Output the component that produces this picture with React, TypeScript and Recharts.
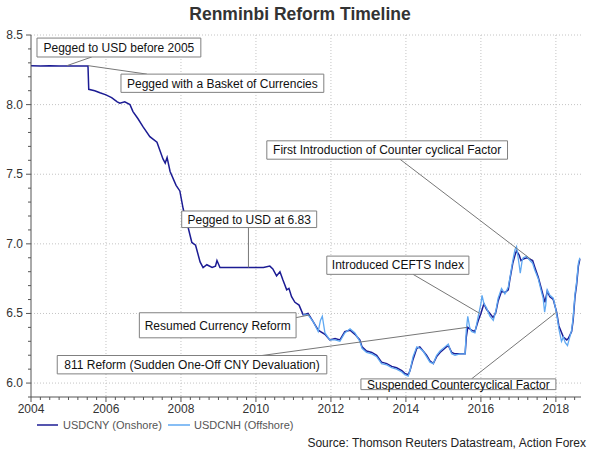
import { LineChart, Line, XAxis, YAxis, CartesianGrid, ReferenceArea, ReferenceLine } from 'recharts';

// USDCNY onshore (decimal year, rate)
const CNY_DATES = [
  2004.0, 2004.25, 2004.5, 2004.75, 2005.0, 2005.25, 2005.52, 2005.54, 2005.7, 2005.84,
  2006.0, 2006.15, 2006.3, 2006.37, 2006.5, 2006.64, 2006.72, 2006.85, 2006.99, 2007.17,
  2007.36, 2007.52, 2007.58, 2007.63, 2007.71, 2007.87, 2007.97, 2008.06, 2008.18, 2008.29,
  2008.39, 2008.51, 2008.59, 2008.69, 2008.83, 2008.92, 2008.96, 2009.04, 2009.36, 2009.79,
  2010.2, 2010.37, 2010.45, 2010.55, 2010.64, 2010.72, 2010.82, 2010.88, 2010.95, 2011.04,
  2011.15, 2011.26, 2011.39, 2011.53, 2011.66, 2011.84, 2011.97, 2012.11, 2012.24, 2012.37,
  2012.51, 2012.64, 2012.77, 2012.83, 2012.95, 2013.09, 2013.22, 2013.35, 2013.49, 2013.62,
  2013.75, 2013.89, 2013.97, 2014.06, 2014.11, 2014.19, 2014.29, 2014.37, 2014.46, 2014.55,
  2014.64, 2014.73, 2014.82, 2014.91, 2015.04, 2015.13, 2015.22, 2015.31, 2015.44, 2015.58,
  2015.61, 2015.65, 2015.75, 2015.84, 2015.93, 2016.0, 2016.08, 2016.15, 2016.24, 2016.33,
  2016.4, 2016.46, 2016.55, 2016.64, 2016.73, 2016.77, 2016.85, 2016.91, 2016.95, 2017.02,
  2017.07, 2017.13, 2017.22, 2017.31, 2017.38, 2017.44, 2017.53, 2017.62, 2017.66, 2017.71,
  2017.77, 2017.84, 2017.93, 2018.02, 2018.08, 2018.2, 2018.29, 2018.33, 2018.42, 2018.46,
  2018.51, 2018.55, 2018.6, 2018.64,
];
const CNY_VALUES = [
  8.28, 8.277, 8.28, 8.277, 8.277, 8.277, 8.277, 8.11, 8.1, 8.085,
  8.07, 8.05, 8.02, 8.01, 8.02, 8.0, 7.95, 7.9, 7.84, 7.77,
  7.73, 7.61, 7.58, 7.62, 7.52, 7.42, 7.38, 7.25, 7.13, 7.01,
  6.99, 6.87, 6.83, 6.85, 6.83, 6.84, 6.88, 6.83, 6.83, 6.83,
  6.83, 6.84, 6.82, 6.77, 6.8, 6.74, 6.67, 6.68, 6.62, 6.58,
  6.56, 6.49, 6.5, 6.44, 6.38, 6.35, 6.31, 6.32, 6.31, 6.37,
  6.38, 6.35, 6.31, 6.26, 6.23, 6.22, 6.2, 6.15, 6.14, 6.12,
  6.11, 6.09, 6.07, 6.06, 6.09, 6.17, 6.25, 6.26, 6.23, 6.2,
  6.16, 6.14, 6.19, 6.22, 6.25, 6.27, 6.22, 6.21, 6.21, 6.21,
  6.33, 6.4, 6.38, 6.37, 6.45, 6.5, 6.57, 6.53, 6.5, 6.47,
  6.51, 6.59, 6.66, 6.65, 6.67, 6.74, 6.86, 6.92, 6.95, 6.92,
  6.88, 6.89, 6.9, 6.89, 6.88, 6.83, 6.76, 6.67, 6.63, 6.58,
  6.66, 6.62, 6.6, 6.51, 6.41, 6.33, 6.31, 6.32, 6.37, 6.45,
  6.62, 6.7, 6.84, 6.89,
];

// USDCNH offshore
const CNH_DATES = [
  2011.26, 2011.39, 2011.53, 2011.66, 2011.72, 2011.77, 2011.84, 2011.97, 2012.11, 2012.24,
  2012.37, 2012.51, 2012.64, 2012.77, 2012.83, 2012.95, 2013.09, 2013.22, 2013.35, 2013.49,
  2013.62, 2013.75, 2013.89, 2013.97, 2014.06, 2014.11, 2014.19, 2014.29, 2014.37, 2014.46,
  2014.55, 2014.64, 2014.73, 2014.82, 2014.91, 2015.04, 2015.13, 2015.22, 2015.31, 2015.44,
  2015.58, 2015.61, 2015.65, 2015.7, 2015.75, 2015.84, 2015.93, 2016.0, 2016.03, 2016.08,
  2016.15, 2016.24, 2016.33, 2016.4, 2016.46, 2016.55, 2016.64, 2016.73, 2016.77, 2016.85,
  2016.91, 2016.95, 2017.02, 2017.05, 2017.1, 2017.13, 2017.22, 2017.31, 2017.38, 2017.44,
  2017.53, 2017.62, 2017.66, 2017.7, 2017.73, 2017.77, 2017.84, 2017.93, 2018.02, 2018.08,
  2018.15, 2018.2, 2018.25, 2018.31, 2018.35, 2018.42, 2018.46, 2018.51, 2018.55, 2018.6,
  2018.64,
];
const CNH_VALUES = [
  6.49, 6.49, 6.44, 6.37, 6.45, 6.48, 6.36, 6.31, 6.31, 6.3,
  6.36, 6.39, 6.36, 6.3, 6.25, 6.22, 6.21, 6.19, 6.14, 6.13,
  6.11, 6.1, 6.08, 6.06, 6.05, 6.09, 6.19, 6.26, 6.25, 6.23,
  6.19, 6.15, 6.14, 6.2, 6.23, 6.26, 6.28, 6.21, 6.2, 6.21,
  6.21, 6.38, 6.48, 6.4, 6.37, 6.36, 6.48, 6.57, 6.63, 6.57,
  6.54, 6.48, 6.45, 6.52, 6.61, 6.68, 6.64, 6.69, 6.75, 6.88,
  6.96, 6.98, 6.85, 6.79, 6.88, 6.9, 6.91, 6.88, 6.86, 6.81,
  6.75, 6.65, 6.61, 6.51, 6.56, 6.67, 6.63, 6.61, 6.5, 6.39,
  6.3, 6.33, 6.29, 6.27, 6.31, 6.38, 6.47, 6.64, 6.72, 6.86,
  6.9,
];

const YEAR_LABELS = [2004, 2006, 2008, 2010, 2012, 2014, 2016, 2018];
const RATE_LABELS = [6.0, 6.5, 7.0, 7.5, 8.0, 8.5];

// annotation boxes [x1, x2, yTop, yBottom] and leader line [[x, y], [x, y]] in data units
const NOTES = [
  { text: 'Pegged to USD before 2005', box: [2004.16, 2008.53, 8.478, 8.342], lead: [[2004.96, 8.28], [2005.62, 8.342]] },
  { text: 'Pegged with a Basket of Currencies', box: [2006.4, 2011.81, 8.219, 8.088], lead: [[2005.52, 8.28], [2007.09, 8.219]] },
  { text: 'Pegged to USD at 6.83', box: [2008.02, 2011.62, 7.236, 7.117], lead: [[2009.8, 6.83], [2009.8, 7.117]] },
  { text: 'First Introduction of Counter cyclical Factor', box: [2010.29, 2016.71, 7.74, 7.608], lead: [[2017.33, 6.89], [2013.84, 7.608]] },
  { text: 'Introduced CEFTS Index', box: [2011.89, 2015.68, 6.912, 6.781], lead: [[2015.97, 6.5], [2014.19, 6.781]] },
  { text: 'Resumed Currency Reform', box: [2006.89, 2011.07, 6.505, 6.325], lead: [[2011.44, 6.49], [2011.07, 6.47]] },
  { text: '811 Reform (Sudden One-Off CNY Devaluation)', box: [2004.7, 2011.89, 6.198, 6.066], lead: [[2015.63, 6.4], [2010.16, 6.198]] },
  { text: 'Suspended Countercyclical Factor', box: [2012.8, 2018.0, 6.03, 5.953], lead: [[2018.02, 6.51], [2015.75, 6.03]] },
];

const CNY_COLOR = '#1c1c94';
const CNH_COLOR = '#5fa8f2';

const cnyData = CNY_DATES.map((t, i) => ({ t, v: CNY_VALUES[i] }));
const cnhData = CNH_DATES.map((t, i) => ({ t, v: CNH_VALUES[i] }));

const xTicks: number[] = [];
for (let y = 2004; y <= 2018; y++) {
  for (let q = 0; q < 4; q++) {
    if (y + q / 4 <= 2018.6) xTicks.push(y + q / 4);
  }
}
const yTicks: number[] = [];
for (let i = 59; i <= 85; i++) yTicks.push(i / 10);

const isWhole = (v: number, step: number) => Math.abs(v / step - Math.round(v / step)) < 1e-6;

function XTick(props: any) {
  const { x, y, payload } = props;
  const v = payload.value;
  const major = YEAR_LABELS.some(l => Math.abs(l - v) < 1e-6);
  return (
    <g>
      <line x1={x} x2={x} y1={y} y2={y + (major ? 5 : 3)} stroke="#555" />
      {major && (
        <text x={x} y={y + 16} textAnchor="middle" fontSize={12} fill="#333">{Math.round(v)}</text>
      )}
    </g>
  );
}

function YTick(props: any) {
  const { x, y, payload } = props;
  const v = payload.value;
  const major = isWhole(v, 0.5);
  return (
    <g>
      <line x1={x - (major ? 5 : 3)} x2={x} y1={y} y2={y} stroke="#555" />
      {major && (
        <text x={x - 8} y={y + 4} textAnchor="end" fontSize={12} fill="#333">{v.toFixed(1)}</text>
      )}
    </g>
  );
}

export default function App() {
  return (
    <div style={{ position: 'absolute', left: 0, top: 0, width: 600, height: 450, background: '#fff', fontFamily: '"Liberation Sans", Arial, sans-serif' }}>
      <LineChart width={600} height={450} margin={{ top: 35, right: 19, bottom: 0, left: 0 }}>
        <CartesianGrid
          stroke="#c4c4c4"
          strokeDasharray="1 2"
          horizontalValues={RATE_LABELS}
          verticalValues={YEAR_LABELS.slice(1)}
        />
        <XAxis
          dataKey="t"
          type="number"
          domain={[2004, 2018.67]}
          ticks={xTicks}
          interval={0}
          allowDataOverflow
          height={53}
          tickLine={false}
          tickSize={0}
          tickMargin={0}
          tick={<XTick />}
          stroke="#555"
        />
        <YAxis
          type="number"
          domain={[5.9, 8.5]}
          ticks={yTicks}
          interval={0}
          allowDataOverflow
          width={31}
          tickLine={false}
          tickSize={0}
          tickMargin={0}
          tick={<YTick />}
          stroke="#555"
        />
        <Line data={cnyData} dataKey="v" stroke={CNY_COLOR} strokeWidth={1.5} dot={false} isAnimationActive={false} />
        <Line data={cnhData} dataKey="v" stroke={CNH_COLOR} strokeWidth={1.3} dot={false} isAnimationActive={false} />
        {NOTES.map(n => (
          <ReferenceLine
            key={'l' + n.text}
            segment={[{ x: n.lead[0][0], y: n.lead[0][1] }, { x: n.lead[1][0], y: n.lead[1][1] }]}
            stroke="#777"
            strokeWidth={1}
            ifOverflow="visible"
            zIndex={1500}
          />
        ))}
        {NOTES.map(n => (
          <ReferenceArea
            key={'b' + n.text}
            x1={n.box[0]}
            x2={n.box[1]}
            y1={n.box[3]}
            y2={n.box[2]}
            fill="#fff"
            fillOpacity={1}
            stroke="#808080"
            strokeWidth={1}
            ifOverflow="visible"
            zIndex={1500}
            label={{ value: n.text, position: 'center', fontSize: 12, fill: '#111' }}
          />
        ))}
      </LineChart>
      <svg width={600} height={450} style={{ position: 'absolute', left: 0, top: 0, pointerEvents: 'none' }}>
        <text x={300} y={20} textAnchor="middle" fontSize={17.5} fontWeight="bold" fill="#333">Renminbi Reform Timeline</text>
        <line x1={37} x2={58} y1={425} y2={425} stroke={CNY_COLOR} strokeWidth={1.5} />
        <text x={63} y={429} fontSize={11} fill="#555">USDCNY (Onshore)</text>
        <line x1={168} x2={190} y1={425} y2={425} stroke={CNH_COLOR} strokeWidth={1.5} />
        <text x={194} y={429} fontSize={11} fill="#555">USDCNH (Offshore)</text>
        <text x={586} y={447} textAnchor="end" fontSize={12} fill="#222">Source: Thomson Reuters Datastream, Action Forex</text>
      </svg>
    </div>
  );
}
